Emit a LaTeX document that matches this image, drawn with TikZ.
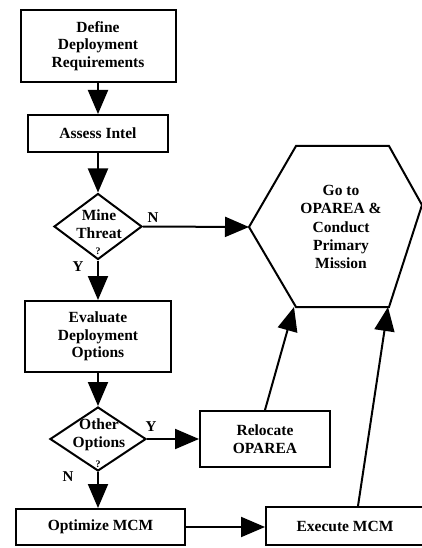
\documentclass[tikz,border=0pt]{standalone}
\usepackage{fontspec}
\setmainfont{Liberation Serif}
\usetikzlibrary{arrows.meta,shapes.geometric,calc}
\begin{document}
\begin{tikzpicture}[x=1pt,y=-1pt,
  box/.style={draw,line width=2pt,rectangle,inner sep=0pt,align=center,font=\bfseries\fontsize{15.5}{17.5}\selectfont},
  dia/.style={draw,line width=2pt,diamond,inner sep=0pt},
  txt/.style={align=center,font=\bfseries\fontsize{15.5}{17.5}\selectfont,inner sep=0pt},
  qm/.style={font=\bfseries\fontsize{10}{10}\selectfont,inner sep=0pt},
  lab/.style={font=\bfseries\fontsize{15}{17}\selectfont,inner sep=0pt},
  arr/.style={line width=2pt,-{Triangle[length=24pt,width=20pt]}},
]
\useasboundingbox (0,0) rectangle (422,548);
\clip (0,0) rectangle (422,548);

\node[box,minimum width=155pt,minimum height=72pt] (def) at (98,46) {Define\\Deployment\\Requirements};
\node[box,minimum width=140pt,minimum height=37pt] (assess) at (98,133.5) {Assess Intel};
\node[dia,minimum width=88pt,minimum height=66pt] (mine) at (98,226.5) {};
\node[txt] (minet) at (99,224) {Mine\\Threat};
\node[qm] (mineq) at (98,251) {?};

\node[box,minimum width=146pt,minimum height=71pt] (eval) at (98,336.5) {Evaluate\\Deployment\\Options};
\node[dia,minimum width=96pt,minimum height=64pt] (other) at (98,439) {};
\node[txt] (othert) at (99,435) {Other\\Options};
\node[qm] (otherq) at (98,464) {?};

\node[box,minimum width=169pt,minimum height=36pt] (opt) at (100.5,527) {Optimize MCM};
\node[box,minimum width=130pt,minimum height=56pt] (reloc) at (265,439) {Relocate\\OPAREA};
\node[box,minimum width=158pt,minimum height=38pt] (exec) at (345,526) {Execute MCM};

\draw[line width=2pt,line join=miter] (296,146) -- (389,146) -- (422,205) -- (389,307) -- (296,307) -- (249,227) -- cycle;
\coordinate (hl) at (249,227);
\coordinate (hbl) at (294,307);
\coordinate (hbr) at (388,307);
\node[txt,align=center,font=\bfseries\fontsize{15.5}{18.3}\selectfont] (hext) at (341,227) {Go to\\OPAREA \&\\Conduct\\Primary\\Mission};

\draw[arr] (def.south) -- (def.south |- assess.north);
\draw[arr] (assess.south) -- (assess.south |- mine.north);
\draw[arr] (mine.east) -- (hl);
\draw[arr] (mine.south) -- (mine.south |- eval.north);
\draw[arr] (eval.south) -- (eval.south |- other.north);
\draw[arr] (other.east) -- (other.east -| reloc.west);
\draw[arr] (other.south) -- (other.south |- opt.north);
\draw[arr] (opt.east) -- (opt.east -| exec.west);
\draw[arr] (reloc.north) -- (hbl);
\coordinate (exn) at ($(exec.north)+(13,0)$);
\draw[arr] (exn) -- (hbr);

\node[lab] (ln1) at (153,218) {N};
\node[lab] (ly1) at (78,267) {Y};
\node[lab] (ly2) at (151,427) {Y};
\node[lab] (ln2) at (68,477) {N};
\end{tikzpicture}
\end{document}
